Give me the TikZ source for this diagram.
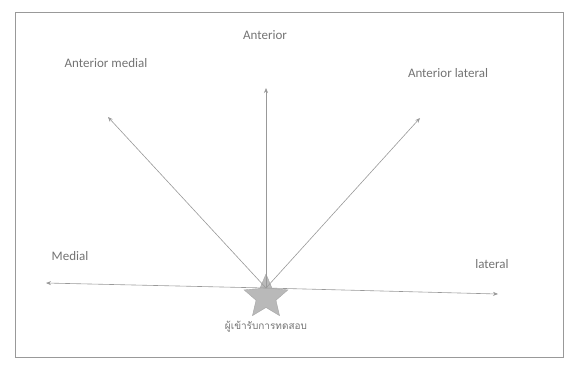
\documentclass[tikz,border=0pt]{standalone}
\usepackage{fontspec}
\setmainfont{Carlito}
\newfontfamily\thaifont[Script=Thai]{Loma}
\usetikzlibrary{shapes.geometric,arrows.meta}
\tikzset{
  dirline/.style={draw=gray!80, line width=.6pt, -{Stealth[length=5pt,width=4pt]}},
  dirlabel/.style={text=gray!90!black, font=\fontsize{13}{15}\selectfont}
}
\begin{document}
\begin{tikzpicture}[x=1pt,y=-1pt]
\useasboundingbox (0,0) rectangle (565,365);
\draw [gray!80, line width=1pt] (15,12) rectangle (563,357);

\coordinate (o) at (266,288);
\node [star, star points=5, star point ratio=2.2, minimum size=46pt, inner sep=0pt,
       fill=gray!55, draw=gray!70] (subj) at (266,297) {};
\node [text=gray!90!black, font=\thaifont\fontsize{10}{12}\selectfont] (subjlbl) at (266,327) {ผู้เข้ารับการทดสอบ};

\coordinate (ant) at (266,88);
\coordinate (antmed) at (108,117);
\coordinate (antlat) at (420,118);
\coordinate (med) at (46,283);
\coordinate (lat) at (498,294);

\draw [dirline] (o) -- (ant);
\draw [dirline] (o) -- (antmed);
\draw [dirline] (o) -- (antlat);
\draw [dirline] (o) -- (med);
\draw [dirline] (o) -- (lat);

\node [dirlabel] (antlbl) at (265,35) {Anterior};
\node [dirlabel] (antmedlbl) at (106,63) {Anterior medial};
\node [dirlabel] (antlatlbl) at (448,73) {Anterior lateral};
\node [dirlabel] (medlbl) at (70,256) {Medial};
\node [dirlabel] (latlbl) at (492,264) {lateral};
\end{tikzpicture}
\end{document}
